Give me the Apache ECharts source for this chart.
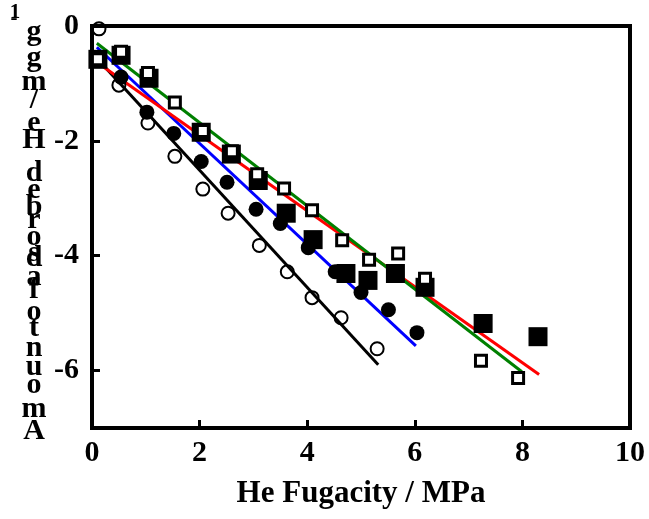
<!DOCTYPE html>
<html>
<head>
<meta charset="utf-8">
<script src="https://cdn.jsdelivr.net/npm/echarts@6/dist/echarts.min.js"></script>
<style>
  html, body { margin: 0; padding: 0; background: #fff; }
  #chart { width: 649px; height: 519px; }
</style>
</head>
<body>
<div id="chart"></div>
<script>
// open circles
var openCircleX = [0.13, 0.50, 1.04, 1.54, 2.06, 2.53, 3.11, 3.63, 4.09, 4.63, 5.30];
var openCircleY = [-0.05, -1.03, -1.69, -2.27, -2.84, -3.26, -3.82, -4.28, -4.73, -5.08, -5.62];
// filled circles
var fillCircleX = [0.54, 1.02, 1.52, 2.03, 2.51, 3.05, 3.50, 4.02, 4.52, 5.00, 5.51, 6.04];
var fillCircleY = [-0.89, -1.50, -1.87, -2.36, -2.72, -3.19, -3.44, -3.86, -4.28, -4.64, -4.94, -5.34];
// filled squares
var fillSquareX = [0.11, 0.54, 1.06, 2.03, 2.59, 3.09, 3.61, 4.11, 4.72, 5.13, 5.64, 6.19, 7.27, 8.29];
var fillSquareY = [-0.58, -0.51, -0.91, -1.85, -2.23, -2.69, -3.26, -3.72, -4.31, -4.43, -4.31, -4.55, -5.18, -5.41];
// open squares
var openSquareX = [0.11, 0.54, 1.04, 1.54, 2.06, 2.60, 3.07, 3.57, 4.09, 4.65, 5.15, 5.69, 6.19, 7.23, 7.92];
var openSquareY = [-0.58, -0.45, -0.82, -1.33, -1.83, -2.18, -2.58, -2.83, -3.21, -3.73, -4.07, -3.96, -4.40, -5.83, -6.13];
// fitted lines (start, end)
var blackFitX = [0.09, 5.32], blackFitY = [-0.56, -5.90];
var blueFitX = [0.09, 6.02], blueFitY = [-0.37, -5.57];
var redFitX = [0.09, 8.31], redFitY = [-0.63, -6.07];
var greenFitX = [0.09, 7.99], greenFitY = [-0.30, -6.02];

var yTickValues = [0, -2, -4, -6];
var yLabelChars = ['g', 'g', 'm', '/', 'e', 'H', 'd', 'e', 'b', 'r', 'o', 's', 'd', 'a', 'f', 'o', 't', 'n', 'u', 'o', 'm', 'A'];
var yLabelPos = [32, 58, 82, 100, 123, 140, 173, 190, 207, 220, 237, 253, 258, 277, 290, 312, 328, 348, 367, 385, 409, 431];

function pairs(xs, ys) {
  return xs.map(function (x, i) { return [x, ys[i]]; });
}

var FONT = '"Liberation Serif", "Times New Roman", serif';
var chart = echarts.init(document.getElementById('chart'));

var graphics = yLabelChars.map(function (c, i) {
  return {
    type: 'text', x: 34, y: yLabelPos[i],
    style: { text: c, fontFamily: FONT, fontWeight: 'bold', fontSize: 30, fill: '#000', align: 'center', verticalAlign: 'middle' }
  };
});
graphics.push({ type: 'text', x: 15, y: 13,
  style: { text: '1', fontFamily: FONT, fontWeight: 'bold', fontSize: 21, fill: '#000', align: 'center', verticalAlign: 'middle' } });
graphics.push({ type: 'text', x: 14, y: 19,
  style: { text: '-', fontFamily: FONT, fontWeight: 'bold', fontSize: 21, fill: '#000', align: 'center', verticalAlign: 'middle' } });

function fitLine(xs, ys, color) {
  return {
    type: 'line', data: pairs(xs, ys), symbol: 'none', silent: true, z: 1,
    lineStyle: { color: color, width: 3 }
  };
}

chart.setOption({
  animation: false,
  backgroundColor: '#fff',
  grid: { left: 92, right: 19, top: 26, bottom: 91, show: true, borderWidth: 4, borderColor: '#000', outerBoundsMode: 'none' },
  graphic: graphics,
  xAxis: {
    type: 'value', min: 0, max: 10, interval: 2,
    name: 'He Fugacity / MPa', nameLocation: 'middle', nameGap: 50,
    nameTextStyle: { fontFamily: FONT, fontWeight: 'bold', fontSize: 31, color: '#000' },
    axisLine: { show: false, onZero: false },
    axisTick: { show: true, inside: true, length: 8, lineStyle: { color: '#000', width: 3 } },
    axisLabel: { fontFamily: FONT, fontWeight: 'bold', fontSize: 30, color: '#000', margin: 10 },
    splitLine: { show: false }
  },
  yAxis: {
    type: 'value', min: -7, max: 0,
    axisLine: { show: false, onZero: false },
    axisTick: { show: true, inside: true, length: 8, customValues: [-2, -4, -6], lineStyle: { color: '#000', width: 3 } },
    axisLabel: { fontFamily: FONT, fontWeight: 'bold', fontSize: 30, color: '#000', margin: 13, customValues: yTickValues },
    splitLine: { show: false }
  },
  series: [
    fitLine(blackFitX, blackFitY, '#000000'),
    fitLine(blueFitX, blueFitY, '#0000ff'),
    fitLine(redFitX, redFitY, '#ff0000'),
    fitLine(greenFitX, greenFitY, '#008000'),
    { type: 'scatter', data: pairs(openCircleX, openCircleY), symbol: 'circle', symbolSize: 13, z: 2,
      itemStyle: { color: 'rgba(255,255,255,0)', borderColor: '#000', borderWidth: 2, opacity: 1 } },
    { type: 'scatter', data: pairs(fillCircleX, fillCircleY), symbol: 'circle', symbolSize: 15, z: 3,
      itemStyle: { color: '#000', opacity: 1 } },
    { type: 'scatter', data: pairs(fillSquareX, fillSquareY), symbol: 'rect', symbolSize: 19, z: 4,
      itemStyle: { color: '#000', opacity: 1 } },
    { type: 'scatter', data: pairs(openSquareX, openSquareY), symbol: 'rect', symbolSize: 11, z: 5,
      itemStyle: { color: '#fff', borderColor: '#000', borderWidth: 3, opacity: 1 } }
  ]
});
</script>
</body>
</html>
